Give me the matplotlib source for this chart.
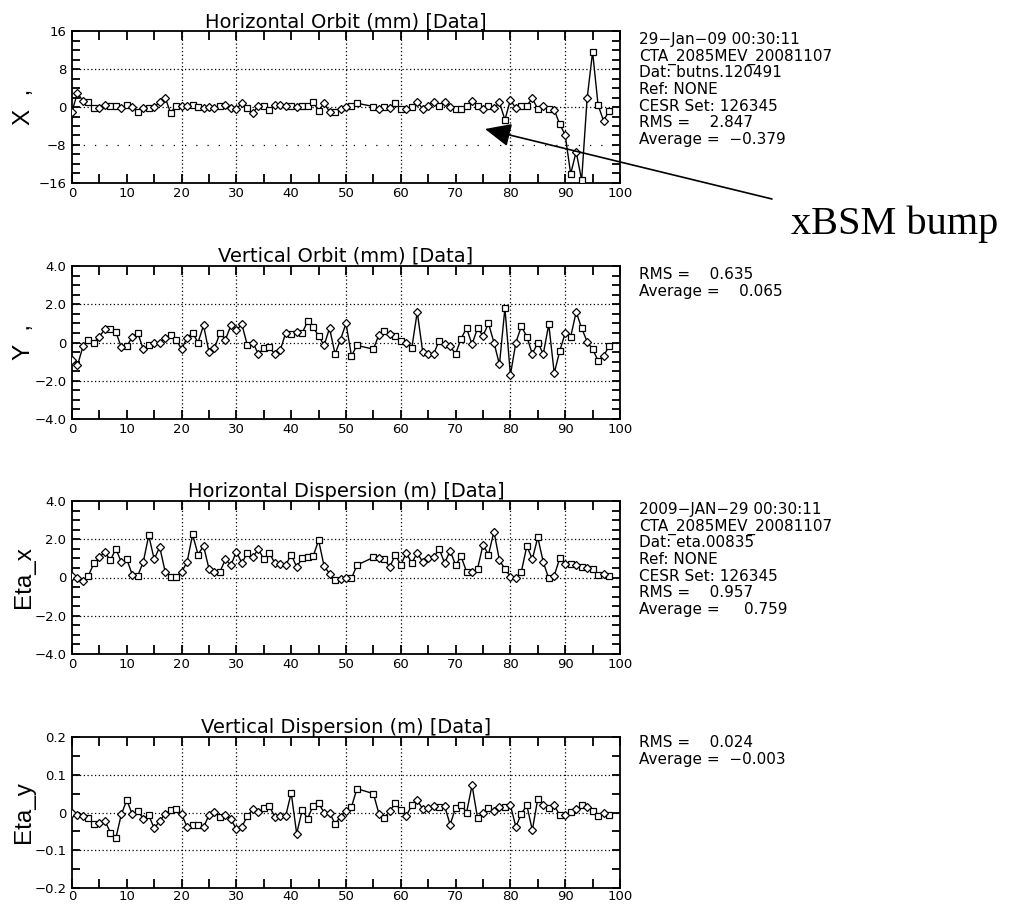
import matplotlib
matplotlib.use("Agg")
import matplotlib.pyplot as plt
from matplotlib.patches import FancyArrowPatch
from matplotlib.ticker import MultipleLocator, FixedLocator, FixedFormatter

# ---------------------------------------------------------------- data
# detector index (53 and 54 have no reading)
detector = [0, 1, 2, 3, 4, 5, 6, 7, 8, 9, 10, 11, 12, 13, 14, 15, 16, 17, 18, 19,
            20, 21, 22, 23, 24, 25, 26, 27, 28, 29, 30, 31, 32, 33, 34, 35, 36, 37, 38, 39,
            40, 41, 42, 43, 44, 45, 46, 47, 48, 49, 50, 51, 52, 55, 56, 57, 58, 59,
            60, 61, 62, 63, 64, 65, 66, 67, 68, 69, 70, 71, 72, 73, 74, 75, 76, 77, 78, 79,
            80, 81, 82, 83, 84, 85, 86, 87, 88, 89, 90, 91, 92, 93, 94, 95, 96, 97, 98]

# marker shape per detector: 's' square, 'D' diamond
marker_type = list("DDDssDDssDsDsDsDDDssDDssDDDsDDDDsDDssDDDsDssssDDsDDsss"
                   "DsDssDsDDDDsDDsssDsDsDDsDDssDsDsDsDsDsDssDs")

x_orbit = [-1.0, 3.0, 1.2, 1.0, -0.2, -0.2, 0.5, 0.3, 0.3, -0.3, 0.5, 0.0, -1.1, -0.2, -0.2, 0.0, 1.0, 2.0, -1.3, 0.3,
           0.3, 0.3, 0.5, 0.0, -0.3, 0.0, -0.3, 0.3, 0.5, -0.3, -0.5, 0.9, -0.3, -1.3, 0.3, 0.3, -0.6, 0.5, 0.5, 0.3,
           0.2, 0.0, 0.2, 0.3, 1.1, -0.8, 0.8, -1.0, -1.1, -0.4, 0.1, 0.3, 0.8, 0.1, -0.4, 0.1, -0.3, 0.8,
           -0.4, -0.4, 0.1, 1.1, -0.4, 0.3, 1.1, 0.3, 1.1, 0.1, -0.4, -0.4, 0.3, 1.3, 0.3, -0.4, 0.3, -0.3, 1.0, -2.7,
           1.5, -0.3, 0.3, 0.3, 1.8, -0.4, 0.2, -0.4, -0.6, -3.6, -5.9, -14.1, -9.4, -15.4, 1.8, 11.6, 0.4, -2.9, -0.8]

y_orbit = [-0.9, -1.2, -0.2, 0.15, 0.0, 0.3, 0.7, 0.7, 0.55, -0.25, -0.2, 0.3, 0.5, -0.35, -0.15, -0.05, 0.0, 0.25, 0.4, 0.15,
           -0.35, 0.25, 0.5, 0.0, 0.9, -0.5, -0.3, 0.5, 0.15, 0.9, 0.65, 0.95, -0.15, 0.0, -0.6, -0.3, -0.25, -0.6, -0.4, 0.5,
           0.45, 0.55, 0.5, 1.1, 0.8, 0.35, -0.15, 0.75, -0.6, 0.15, 1.0, -0.7, -0.15, -0.35, 0.4, 0.6, 0.45, 0.35,
           0.1, 0.0, -0.3, 1.6, -0.5, -0.6, -0.6, 0.1, -0.1, -0.2, -0.6, 0.2, 0.75, -0.1, 0.75, 0.35, 1.0, 0.0, -1.15, 1.8,
           -1.7, 0.0, 0.85, 0.3, -0.6, 0.0, -0.6, 0.95, -1.6, -0.45, 0.5, 0.3, 1.6, 0.75, 0.05, -0.35, -0.95, -0.7, -0.2]

eta_x = [0.1, -0.05, -0.2, 0.1, 0.75, 1.05, 1.35, 0.9, 1.5, 0.8, 0.95, 0.15, 0.1, 0.8, 2.2, 0.95, 1.6, 0.3, 0.05, 0.05,
         0.3, 0.8, 2.25, 1.2, 1.65, 0.45, 0.3, 0.3, 0.95, 0.65, 1.35, 0.75, 1.3, 1.05, 1.5, 0.95, 1.3, 0.75, 0.7, 0.65,
         1.2, 0.55, 1.0, 1.05, 1.1, 1.95, 0.6, 0.2, -0.15, -0.1, -0.05, -0.05, 0.65, 1.05, 1.0, 0.95, 0.55, 1.2,
         0.65, 1.3, 0.75, 1.3, 0.8, 1.0, 1.05, 1.5, 0.75, 1.4, 0.65, 1.1, 0.3, 0.3, 0.45, 1.7, 1.2, 2.4, 0.9, 0.45,
         0.05, -0.05, 0.3, 1.65, 0.95, 2.1, 0.8, -0.05, 0.1, 1.0, 0.7, 0.7, 0.65, 0.55, 0.5, 0.45, 0.15, 0.2, 0.1]

eta_y = [0.0, -0.007, -0.01, -0.015, -0.03, -0.027, -0.022, -0.053, -0.068, -0.005, 0.033, -0.005, 0.004, -0.016,
         -0.007, -0.042, -0.023, -0.003, 0.006, 0.01, -0.005, -0.038, -0.033, -0.033, -0.039, -0.007, 0.002, -0.011,
         -0.007, -0.018, -0.044, -0.038, -0.009, 0.008, 0.002, 0.012, 0.017, -0.011, -0.009, -0.009, 0.052, -0.056,
         0.006, -0.016, 0.018, 0.024, 0.0, 0.0, -0.03, -0.011, 0.004, 0.015, 0.063, 0.05, -0.003, -0.014, 0.004,
         0.024, 0.006, -0.009, 0.019, 0.033, 0.009, 0.012, 0.017, 0.015, 0.017, -0.032, 0.012, 0.021, 0.0, 0.072,
         -0.014, 0.0, 0.012, 0.004, 0.015, 0.015, 0.019, -0.038, -0.003, 0.019, -0.047, 0.037, 0.019, 0.011, 0.019,
         -0.007, -0.007, 0.001, 0.008, 0.019, 0.015, 0.004, -0.009, 0.0, -0.007]

titles = ["Horizontal Orbit (mm) [Data]", "Vertical Orbit (mm) [Data]",
          "Horizontal Dispersion (m) [Data]", "Vertical Dispersion (m) [Data]"]
ylabels = ["X  ,", "Y  ,", "Eta_x", "Eta_y"]
ytick_vals = [[-16, -8, 0, 8, 16], [-4, -2, 0, 2, 4], [-4, -2, 0, 2, 4], [-0.2, -0.1, 0, 0.1, 0.2]]
ytick_text = [["\u221216", "\u22128", "0", "8", "16"],
              ["\u22124.0", "\u22122.0", "0", "2.0", "4.0"],
              ["\u22124.0", "\u22122.0", "0", "2.0", "4.0"],
              ["\u22120.2", "\u22120.1", "0", "0.1", "0.2"]]
xtick_vals = [0, 10, 20, 30, 40, 50, 60, 70, 80, 90, 100]
xgrid = [20, 30, 50, 60, 80, 90]

info = [["29\u2212Jan\u221209 00:30:11", "CTA_2085MEV_20081107", "Dat: butns.120491",
         "Ref: NONE", "CESR Set: 126345", "RMS =    2.847", "Average =  \u22120.379"],
        ["RMS =    0.635", "Average =    0.065"],
        ["2009\u2212JAN\u221229 00:30:11", "CTA_2085MEV_20081107", "Dat: eta.00835",
         "Ref: NONE", "CESR Set: 126345", "RMS =    0.957", "Average =     0.759"],
        ["RMS =    0.024", "Average =  \u22120.003"]]

# ---------------------------------------------------------------- layout
W, H = 1028, 906
fig = plt.figure(figsize=(W / 100, H / 100), dpi=100)
fig.patch.set_facecolor("white")

panels = [(31, 183), (266, 419), (501, 654), (737, 888)]   # top, bottom in px
ax_left, ax_right = 72, 620
minor_step = [2, 0.5, 0.5, 0.05]
info_first_baseline = [44, 279, 514, 747]
series = [x_orbit, y_orbit, eta_x, eta_y]

dot = (0, (1, 2))
for k, (top, bot) in enumerate(panels):
    ax = fig.add_axes([ax_left / W, 1 - bot / H, (ax_right - ax_left) / W, (bot - top) / H])
    yv = series[k]
    lo, hi = ytick_vals[k][0], ytick_vals[k][-1]
    ax.set_xlim(0, 100)
    ax.set_ylim(lo, hi)

    # dotted reference grid
    for gx in xgrid:
        ax.axvline(gx, color="black", lw=0.9, ls=dot, zorder=1)
    for gy in ytick_vals[k][1:-1]:
        style = (0, (1, 8)) if (k == 0 and gy < 0) else dot
        ax.axhline(gy, color="black", lw=0.9, ls=style, zorder=1)

    # orbit / dispersion trace
    ax.plot(detector, yv, color="black", lw=1.0, zorder=2)
    for m, ms in (("s", 4.0), ("D", 4.0)):
        xs = [d for d, t in zip(detector, marker_type) if t == m]
        ys = [v for v, t in zip(yv, marker_type) if t == m]
        ax.plot(xs, ys, ls="none", marker=m, ms=ms, mfc="white", mec="black",
                mew=0.9, zorder=3)

    # ticks
    ax.xaxis.set_major_locator(FixedLocator(xtick_vals))
    ax.xaxis.set_minor_locator(MultipleLocator(5))
    ax.yaxis.set_major_locator(FixedLocator(ytick_vals[k]))
    ax.yaxis.set_major_formatter(FixedFormatter(ytick_text[k]))
    ax.yaxis.set_minor_locator(MultipleLocator(minor_step[k]))
    ax.tick_params(which="both", direction="in", top=True, right=True,
                   width=1.3, color="black")
    ax.tick_params(axis="x", which="both", length=6.5)
    ax.tick_params(axis="y", which="both", length=5.5)
    ax.tick_params(axis="x", which="major", pad=1.5 if k == 3 else 3, labelsize=9.5)
    ax.tick_params(axis="y", which="major", pad=4, labelsize=9.5)
    for s in ax.spines.values():
        s.set_linewidth(1.3)

    ax.set_title(titles[k], fontsize=14, pad=2, family="DejaVu Sans")

    # axis name on the left
    fig.text(24 / W, 1 - (top + bot) / 2 / H, ylabels[k], rotation=90,
             ha="center", va="center", fontsize=17.5, family="Liberation Sans")

    # run information block
    for i, line in enumerate(info[k]):
        fig.text(639 / W, 1 - (info_first_baseline[k] + i * 16.67) / H, line,
                 fontsize=11, va="baseline", ha="left", family="DejaVu Sans")

# annotation for the bump
arrow = FancyArrowPatch((772 / W, 1 - 199 / H), (485 / W, 1 - 129 / H),
                        transform=fig.transFigure,
                        arrowstyle="-|>,head_length=1.0,head_width=0.45",
                        mutation_scale=16, lw=1.2, color="black",
                        shrinkA=0, shrinkB=0)
fig.add_artist(arrow)
fig.text(791 / W, 1 - 234 / H, "xBSM bump", fontsize=29,
         family="Liberation Serif", va="baseline", ha="left")

fig.savefig("out.png", dpi=100)
